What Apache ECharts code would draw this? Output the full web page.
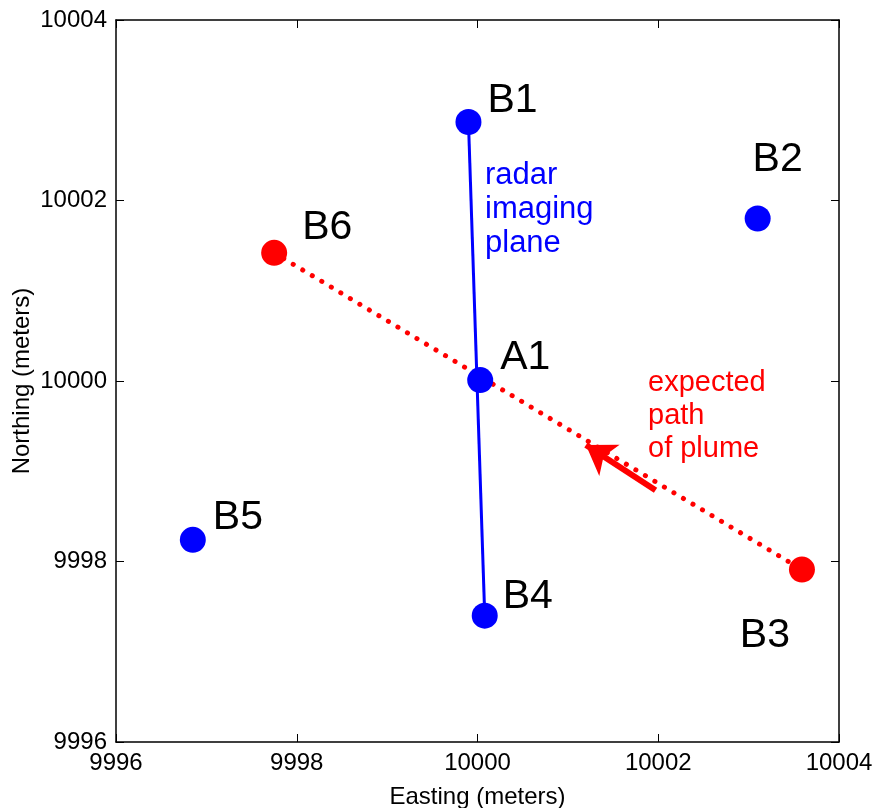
<!DOCTYPE html>
<html>
<head>
<meta charset="utf-8">
<script src="https://cdn.jsdelivr.net/npm/echarts@6/dist/echarts.min.js"></script>
<style>
  html, body { margin: 0; padding: 0; background: #fff; }
  #main { width: 874px; height: 808px; }
</style>
</head>
<body>
<div id="main"></div>
<script>
// stations (easting / northing in meters)
const blueNames = ['B1', 'B2', 'A1', 'B5', 'B4'];
const blueEasting = [9999.90, 10003.10, 10000.03, 9996.85, 10000.08];
const blueNorthing = [10002.87, 10001.80, 10000.01, 9998.24, 9997.40];

const redNames = ['B6', 'B3'];
const redEasting = [9997.75, 10003.59];
const redNorthing = [10001.42, 9997.91];

// radar imaging plane runs B1 -> B4
const planeEnds = ['B1', 'B4'];

// plume direction arrow (tail, head)
const arrowEasting = [10001.97, 10001.20];
const arrowNorthing = [9998.79, 9999.29];

const axisTicks = [9996, 9998, 10000, 10002, 10004];

const FONT = 'Liberation Sans, Arial, sans-serif';

// where each station label sits
const labelPos = {
  B1: { position: 'right', distance: 6, offset: [0, -21] },
  B2: { position: 'top', distance: 25, offset: [20, 0] },
  A1: { position: 'right', distance: 7, offset: [0, -22] },
  B5: { position: 'right', distance: 7, offset: [0, -22] },
  B4: { position: 'right', distance: 5, offset: [0, -19] },
  B6: { position: 'right', distance: 15, offset: [0, -25] },
  B3: { position: 'bottom', distance: 33, offset: [-37, 0] }
};

function points(names, xs, ys) {
  return names.map(function (n, i) {
    return {
      name: n,
      value: [xs[i], ys[i]],
      label: Object.assign({ show: true, formatter: '{b}' }, labelPos[n])
    };
  });
}

function pick(name) {
  const i = blueNames.indexOf(name);
  return [blueEasting[i], blueNorthing[i]];
}

const chart = echarts.init(document.getElementById('main'), null, { renderer: 'canvas' });

const axisCommon = {
  type: 'value',
  min: axisTicks[0],
  max: axisTicks[axisTicks.length - 1],
  interval: 2,
  splitLine: { show: false },
  axisLine: { show: true, onZero: false, lineStyle: { color: '#000', width: 1.5 } },
  axisTick: { show: true, inside: true, length: 8, lineStyle: { color: '#000', width: 1 } }
};

const labelStyle = {
  color: '#000', fontSize: 24, fontFamily: FONT,
  formatter: function (v) { return String(v); }
};

var option = {
  backgroundColor: '#fff',
  animation: false,
  grid: { left: 116, right: 35, top: 20, bottom: 66, outerBoundsMode: 'none' },
  xAxis: [
    Object.assign({}, axisCommon, {
      position: 'bottom',
      name: 'Easting (meters)',
      nameLocation: 'middle',
      nameGap: 43,
      nameTextStyle: { color: '#000', fontSize: 24, fontFamily: FONT },
      axisLabel: Object.assign({ margin: 9 }, labelStyle)
    }),
    Object.assign({}, axisCommon, { position: 'top', axisLabel: { show: false } })
  ],
  yAxis: [
    Object.assign({}, axisCommon, {
      position: 'left',
      name: 'Northing (meters)',
      nameLocation: 'middle',
      nameGap: 82,
      nameMoveOverlap: false,
      nameTextStyle: { color: '#000', fontSize: 24, fontFamily: FONT },
      axisLabel: Object.assign({ margin: 9 }, labelStyle)
    }),
    Object.assign({}, axisCommon, { position: 'right', axisLabel: { show: false } })
  ],
  graphic: [
    {
      type: 'text', left: 485, top: 158, z: 10,
      style: { text: 'radar\nimaging\nplane', fill: '#0000ff', fontSize: 31, fontFamily: FONT, lineHeight: 34 }
    },
    {
      type: 'text', left: 648, top: 366, z: 10,
      style: { text: 'expected\npath\nof plume', fill: '#ff0000', fontSize: 29, fontFamily: FONT, lineHeight: 33 }
    }
  ],
  series: [
    {
      // radar imaging plane
      type: 'line',
      data: planeEnds.map(pick),
      symbol: 'none',
      lineStyle: { color: '#0000ff', width: 3 },
      z: 2
    },
    {
      // expected plume path
      type: 'line',
      data: redEasting.map(function (x, i) { return [x, redNorthing[i]]; }),
      symbol: 'none',
      lineStyle: { color: '#ff0000', width: 5, type: [0.1, 11], cap: 'round' },
      z: 2
    },
    {
      type: 'lines',
      coordinateSystem: 'cartesian2d',
      symbol: ['none', 'arrow'],
      symbolSize: 28,
      lineStyle: { color: '#ff0000', width: 6, opacity: 1, curveness: 0 },
      data: [{ coords: [[arrowEasting[0], arrowNorthing[0]], [arrowEasting[1], arrowNorthing[1]]] }],
      z: 3
    },
    {
      type: 'scatter',
      symbolSize: 26,
      itemStyle: { color: '#0000ff', opacity: 1 },
      label: { color: '#000', fontSize: 41, fontFamily: FONT },
      data: points(blueNames, blueEasting, blueNorthing),
      z: 5
    },
    {
      type: 'scatter',
      symbolSize: 26,
      itemStyle: { color: '#ff0000', opacity: 1 },
      label: { color: '#000', fontSize: 41, fontFamily: FONT },
      data: points(redNames, redEasting, redNorthing),
      z: 5
    }
  ]
};

chart.setOption(option);
</script>
</body>
</html>
